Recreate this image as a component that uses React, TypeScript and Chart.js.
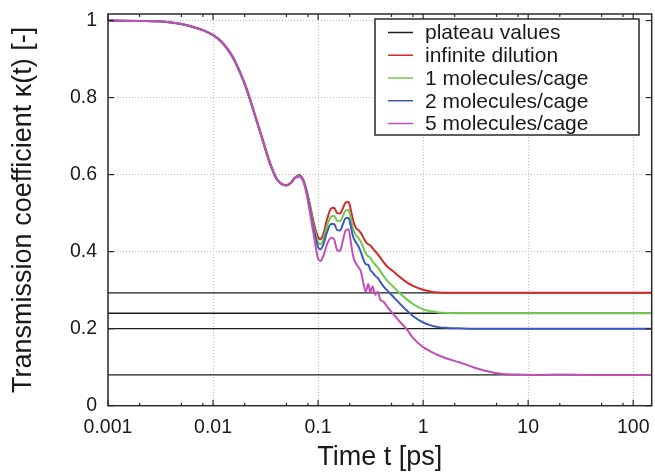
import React, { useEffect, useRef } from "react";
import { Chart, registerables } from "chart.js";

Chart.register(...registerables);

const TIME = [
  0.001, 0.002, 0.003, 0.004, 0.005, 0.006, 0.008, 0.01, 0.012, 0.015,
  0.018, 0.021, 0.025, 0.03, 0.035, 0.04, 0.045, 0.05, 0.055, 0.06,
  0.066, 0.072, 0.078, 0.085, 0.092, 0.1, 0.105, 0.112, 0.122, 0.133,
  0.142, 0.152, 0.162, 0.172, 0.183, 0.195, 0.205, 0.215, 0.228, 0.242,
  0.256, 0.27, 0.285, 0.3, 0.315, 0.33, 0.35, 0.37, 0.39, 0.42,
  0.46, 0.52, 0.6, 0.7, 0.8, 1.0, 1.2, 1.4, 1.7, 2.2,
  3, 4, 5.5, 8, 12, 20, 40, 80, 150,
];

const INFINITE_DILUTION = [
  1.0, 0.999, 0.998, 0.995, 0.991, 0.986, 0.975, 0.962, 0.946, 0.912,
  0.868, 0.822, 0.757, 0.688, 0.63, 0.592, 0.576, 0.573, 0.579, 0.592,
  0.599, 0.588, 0.558, 0.513, 0.47, 0.438, 0.432, 0.445, 0.485, 0.512,
  0.514, 0.5, 0.499, 0.512, 0.528, 0.529, 0.508, 0.482, 0.463, 0.456,
  0.448, 0.437, 0.425, 0.419, 0.416, 0.409, 0.401, 0.393, 0.385, 0.373,
  0.36, 0.349, 0.334, 0.32, 0.311, 0.301, 0.296, 0.294, 0.293, 0.293,
  0.293, 0.293, 0.293, 0.293, 0.293, 0.293, 0.293, 0.293, 0.293,
];

const MOL_1 = [
  1.0, 0.999, 0.998, 0.995, 0.991, 0.986, 0.975, 0.962, 0.945, 0.91,
  0.866, 0.819, 0.754, 0.685, 0.627, 0.59, 0.575, 0.572, 0.578, 0.591,
  0.597, 0.586, 0.555, 0.505, 0.46, 0.425, 0.419, 0.432, 0.468, 0.491,
  0.493, 0.48, 0.479, 0.492, 0.507, 0.508, 0.487, 0.46, 0.443, 0.436,
  0.425, 0.41, 0.395, 0.388, 0.384, 0.375, 0.366, 0.359, 0.35, 0.337,
  0.323, 0.309, 0.292, 0.276, 0.264, 0.25, 0.245, 0.242, 0.241, 0.24,
  0.24, 0.24, 0.24, 0.24, 0.24, 0.24, 0.24, 0.24, 0.24,
];

const MOL_2 = [
  1.0, 0.999, 0.998, 0.995, 0.991, 0.986, 0.975, 0.962, 0.945, 0.91,
  0.866, 0.819, 0.754, 0.685, 0.627, 0.59, 0.575, 0.572, 0.578, 0.591,
  0.596, 0.585, 0.552, 0.498, 0.452, 0.412, 0.406, 0.418, 0.452, 0.472,
  0.472, 0.456, 0.455, 0.471, 0.487, 0.488, 0.465, 0.44, 0.425, 0.414,
  0.398, 0.38, 0.367, 0.366, 0.352, 0.346, 0.337, 0.332, 0.322, 0.31,
  0.298, 0.283, 0.265, 0.247, 0.233, 0.216, 0.208, 0.204, 0.202, 0.201,
  0.2, 0.2, 0.2, 0.2, 0.2, 0.2, 0.2, 0.2, 0.2,
];

const MOL_5 = [
  1.0, 0.999, 0.998, 0.995, 0.991, 0.986, 0.975, 0.962, 0.945, 0.91,
  0.866, 0.819, 0.754, 0.685, 0.627, 0.59, 0.575, 0.572, 0.578, 0.59,
  0.595, 0.583, 0.548, 0.49, 0.435, 0.382, 0.376, 0.388, 0.42, 0.436,
  0.432, 0.404, 0.402, 0.428, 0.455, 0.458, 0.425, 0.39, 0.37, 0.36,
  0.348, 0.318, 0.296, 0.316, 0.294, 0.31, 0.288, 0.296, 0.276, 0.27,
  0.255, 0.238, 0.218, 0.198, 0.176, 0.152, 0.14, 0.131, 0.122, 0.113,
  0.1, 0.09, 0.083, 0.081, 0.08, 0.081, 0.08, 0.08, 0.08,
];

const PLATEAUS = [0.293, 0.24, 0.2, 0.08];

const X_MIN = 0.001;
const X_MAX = 150;
const Y_MIN = 0;
const Y_MAX = 1.017;

const X_TICKS = [0.001, 0.01, 0.1, 1, 10, 100];
const X_TICK_LABELS = ["0.001", "0.01", "0.1", "1", "10", "100"];
const X_MINOR_FACTORS = [2, 5, 8];
const Y_TICKS = [0, 0.2, 0.4, 0.6, 0.8, 1];
const Y_TICK_LABELS = ["0", "0.2", "0.4", "0.6", "0.8", "1"];

const SERIES_LABELS = [
  "infinite dilution",
  "1 molecules/cage",
  "2 molecules/cage",
  "5 molecules/cage",
];
const PLATEAU_LABEL = "plateau values";

const PLATEAU_COLOR = "#1e1e1e";
const SERIES_COLORS = ["#d22a2a", "#6fca4c", "#3a58bd", "#c24fb5"];

const FONT = "'Liberation Sans', Arial, Helvetica, sans-serif";

const framePlugin = {
  id: "gnuFrame",
  afterDatasetsDraw(chart: any) {
    const { ctx, chartArea: a, scales } = chart;
    const xs = scales.x;
    const ys = scales.y;
    ctx.save();
    const line = (x1: number, y1: number, x2: number, y2: number) => {
      ctx.beginPath();
      ctx.moveTo(x1, y1);
      ctx.lineTo(x2, y2);
      ctx.stroke();
    };
    ctx.strokeStyle = "#2a2a2a";
    ctx.lineWidth = 1.2;
    for (const v of X_TICKS) {
      const px = xs.getPixelForValue(v);
      line(px, a.bottom, px, a.bottom - 6);
      line(px, a.top, px, a.top + 6);
      for (const f of X_MINOR_FACTORS) {
        const mv = v * f;
        if (mv <= X_MAX) {
          const mp = xs.getPixelForValue(mv);
          line(mp, a.bottom, mp, a.bottom - 3);
          line(mp, a.top, mp, a.top + 3);
        }
      }
    }
    for (const v of Y_TICKS) {
      const py = ys.getPixelForValue(v);
      line(a.left, py, a.left + 6, py);
      line(a.right, py, a.right - 6, py);
    }
    ctx.lineWidth = 1.5;
    ctx.strokeRect(a.left, a.top, a.right - a.left, a.bottom - a.top);

    // legend box (gnuplot style)
    const boxW = 264;
    const boxH = 116;
    const bx = a.right - 12.7 - boxW;
    const by = a.top + 5;
    ctx.fillStyle = "#ffffff";
    ctx.fillRect(bx, by, boxW, boxH);
    ctx.strokeStyle = "#2a2a2a";
    ctx.lineWidth = 1.5;
    ctx.strokeRect(bx, by, boxW, boxH);
    const entries = [
      { label: PLATEAU_LABEL, color: PLATEAU_COLOR },
      ...SERIES_LABELS.map((l, i) => ({ label: l, color: SERIES_COLORS[i] })),
    ];
    ctx.font = `21px ${FONT}`;
    ctx.textBaseline = "middle";
    ctx.textAlign = "left";
    entries.forEach((e, i) => {
      const ry = by + 13.5 + i * 22.75;
      ctx.strokeStyle = e.color;
      ctx.lineWidth = 1.5;
      line(bx + 13, ry, bx + 38, ry);
      ctx.fillStyle = "#1a1a1a";
      ctx.fillText(e.label, bx + 50, ry + 1);
    });
    ctx.restore();
  },
};

export default function App() {
  const canvasRef = useRef<HTMLCanvasElement | null>(null);

  useEffect(() => {
    if (!canvasRef.current) return;
    Chart.defaults.font.family = FONT;
    Chart.defaults.color = "#1a1a1a";

    const plateauSets = PLATEAUS.map((v) => ({
      label: PLATEAU_LABEL,
      data: [
        { x: X_MIN, y: v },
        { x: X_MAX, y: v },
      ],
      borderColor: PLATEAU_COLOR,
      borderWidth: 1.4,
      pointRadius: 0,
      fill: false,
      order: 10,
    }));

    const seriesValues = [INFINITE_DILUTION, MOL_1, MOL_2, MOL_5];
    const seriesSets = seriesValues.map((vals, i) => ({
      label: SERIES_LABELS[i],
      data: TIME.map((t, k) => ({ x: t, y: vals[k] })),
      borderColor: SERIES_COLORS[i],
      borderWidth: 2,
      pointRadius: 0,
      fill: false,
      cubicInterpolationMode: "monotone" as const,
      order: 5 - i,
    }));

    const chart = new Chart(canvasRef.current, {
      type: "line",
      data: { datasets: [...plateauSets, ...seriesSets] as any },
      options: {
        animation: false,
        responsive: true,
        maintainAspectRatio: false,
        layout: { padding: { top: 14, right: 3.3, left: 0, bottom: 0 } },
        plugins: {
          legend: { display: false },
          tooltip: { enabled: false },
        },
        scales: {
          x: {
            type: "logarithmic",
            min: X_MIN,
            max: X_MAX,
            afterBuildTicks: (scale: any) => {
              scale.ticks = X_TICKS.map((v) => ({ value: v }));
            },
            afterFit: (scale: any) => {
              scale.height = 66.3;
              scale.paddingLeft = 0;
              scale.paddingRight = 0;
              scale.paddingTop = 0;
              scale.paddingBottom = 0;
            },
            ticks: {
              autoSkip: false,
              maxRotation: 0,
              padding: 10,
              font: { size: 19.5 },
              color: "#1a1a1a",
              callback: (value: any) => {
                const idx = X_TICKS.findIndex(
                  (t) => Math.abs(Math.log10(t) - Math.log10(Number(value))) < 1e-6
                );
                return idx >= 0 ? X_TICK_LABELS[idx] : "";
              },
            },
            grid: {
              drawTicks: false,
              color: "#bcbcbc",
              lineWidth: 1,
            },
            border: { display: false, dash: [1, 2] },
            title: {
              display: true,
              text: "Time t [ps]",
              font: { size: 27, lineHeight: 1 },
              color: "#1a1a1a",
              padding: { top: 0, bottom: 1 },
            },
          },
          y: {
            type: "linear",
            min: Y_MIN,
            max: Y_MAX,
            afterBuildTicks: (scale: any) => {
              scale.ticks = Y_TICKS.map((v) => ({ value: v }));
            },
            afterFit: (scale: any) => {
              scale.width = 108;
              scale.paddingLeft = 0;
              scale.paddingRight = 0;
              scale.paddingTop = 0;
              scale.paddingBottom = 0;
            },
            ticks: {
              padding: 11,
              font: { size: 19.5 },
              color: "#1a1a1a",
              callback: (value: any) => {
                const idx = Y_TICKS.findIndex((t) => Math.abs(t - Number(value)) < 1e-6);
                return idx >= 0 ? Y_TICK_LABELS[idx] : "";
              },
            },
            grid: {
              drawTicks: false,
              color: "#bcbcbc",
              lineWidth: 1,
            },
            border: { display: false, dash: [1, 2] },
            title: {
              display: true,
              text: "Transmission coefficient κ(t) [-]",
              font: { size: 27, lineHeight: 1 },
              color: "#1a1a1a",
              padding: { top: 9.8, bottom: 0 },
            },
          },
        },
      },
      plugins: [framePlugin],
    });

    return () => chart.destroy();
  }, []);

  return (
    <div style={{ position: "fixed", left: 0, top: 0, width: 655, height: 472, background: "#fff" }}>
      <canvas ref={canvasRef} />
    </div>
  );
}
